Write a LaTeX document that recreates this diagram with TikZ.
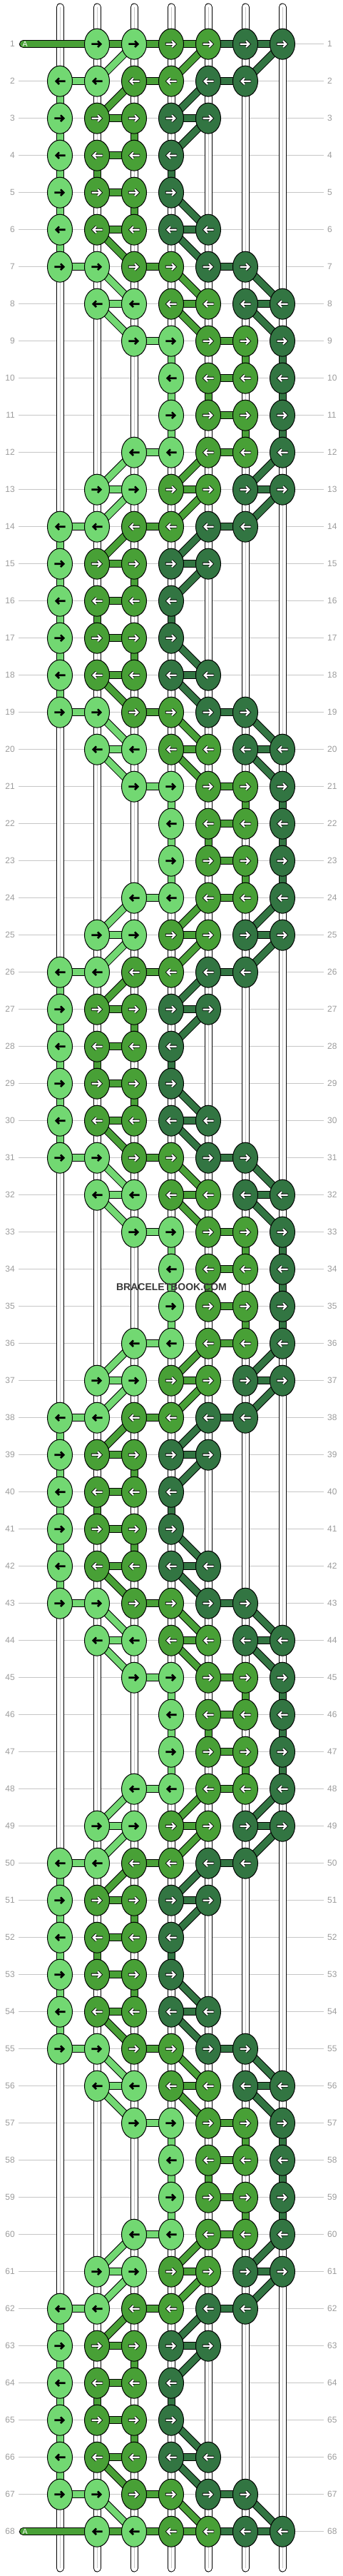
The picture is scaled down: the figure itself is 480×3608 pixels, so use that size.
\documentclass[tikz,border=0pt]{standalone}
\usepackage{fontspec}
\setmainfont{Liberation Sans}
\usetikzlibrary{shapes.geometric}
\definecolor{cL}{HTML}{72D872}
\definecolor{cM}{HTML}{48A036}
\definecolor{cD}{HTML}{327542}
\definecolor{gridgray}{HTML}{C6C6C6}
\definecolor{labgray}{HTML}{9C9C9C}
\definecolor{wmgray}{HTML}{3A3A3A}
\definecolor{strgray}{HTML}{C8C8C8}
\pgfdeclarelayer{gridlayer}
\pgfdeclarelayer{stringlayer}
\pgfdeclarelayer{connblack}
\pgfdeclarelayer{conncolor}
\pgfsetlayers{gridlayer,stringlayer,connblack,conncolor,main}
% knots per period position
\expandafter\def\csname kn0\endcsname{1/L,2/L,3/M,4/M,5/D,6/D}
\expandafter\def\csname kn1\endcsname{2/L,3/L,4/M,5/M,6/D,7/D}
\expandafter\def\csname kn2\endcsname{3/L,4/L,5/M,6/M,7/D}
\expandafter\def\csname kn3\endcsname{4/L,5/M,6/M,7/D}
\expandafter\def\csname kn4\endcsname{4/L,5/M,6/M,7/D}
\expandafter\def\csname kn5\endcsname{3/L,4/L,5/M,6/M,7/D}
\expandafter\def\csname kn6\endcsname{2/L,3/L,4/M,5/M,6/D,7/D}
\expandafter\def\csname kn7\endcsname{1/L,2/L,3/M,4/M,5/D,6/D}
\expandafter\def\csname kn8\endcsname{1/L,2/M,3/M,4/D,5/D}
\expandafter\def\csname kn9\endcsname{1/L,2/M,3/M,4/D}
\expandafter\def\csname kn10\endcsname{1/L,2/M,3/M,4/D}
\expandafter\def\csname kn11\endcsname{1/L,2/M,3/M,4/D,5/D}
% horizontal bars per period position
\expandafter\def\csname hb0\endcsname{1/2/L,3/4/M,5/6/D}
\expandafter\def\csname hb1\endcsname{2/3/L,4/5/M,6/7/D}
\expandafter\def\csname hb2\endcsname{3/4/L,5/6/M}
\expandafter\def\csname hb3\endcsname{5/6/M}
\expandafter\def\csname hb4\endcsname{5/6/M}
\expandafter\def\csname hb5\endcsname{3/4/L,5/6/M}
\expandafter\def\csname hb6\endcsname{2/3/L,4/5/M,6/7/D}
\expandafter\def\csname hb7\endcsname{1/2/L,3/4/M,5/6/D}
\expandafter\def\csname hb8\endcsname{2/3/M,4/5/D}
\expandafter\def\csname hb9\endcsname{2/3/M}
\expandafter\def\csname hb10\endcsname{2/3/M}
\expandafter\def\csname hb11\endcsname{2/3/M,4/5/D}
% connections to next row per period position
\expandafter\def\csname cn0\endcsname{2/3/L,4/5/M,6/7/D}
\expandafter\def\csname cn1\endcsname{2/3/L,4/5/M,6/7/D}
\expandafter\def\csname cn2\endcsname{4/4/L,6/6/M,7/7/D}
\expandafter\def\csname cn3\endcsname{4/4/L,5/5/M,7/7/D}
\expandafter\def\csname cn4\endcsname{4/4/L,6/6/M,7/7/D}
\expandafter\def\csname cn5\endcsname{3/2/L,5/4/M,7/6/D}
\expandafter\def\csname cn6\endcsname{3/2/L,5/4/M,7/6/D}
\expandafter\def\csname cn7\endcsname{1/1/L,3/2/M,5/4/D}
\expandafter\def\csname cn8\endcsname{1/1/L,3/3/M,5/4/D}
\expandafter\def\csname cn9\endcsname{1/1/L,2/2/M,4/4/D}
\expandafter\def\csname cn10\endcsname{1/1/L,3/3/M,4/5/D}
\expandafter\def\csname cn11\endcsname{1/1/L,2/3/M,4/5/D}
\tikzset{
  knot/.style={ellipse, draw=black, line width=1pt, fill=c#1, minimum width=35pt, minimum height=43pt, inner sep=0pt},
  gridline/.style={draw=gridgray, line width=1pt},
  rowlab/.style={text=labgray, font=\fontsize{12pt}{14pt}\selectfont, inner sep=0pt},
  barout/.style={line width=11pt, draw=black},
  barin/.style={line width=9pt, draw=c#1},
  strout/.style={line width=11pt, draw=black, line cap=round},
  strin/.style={line width=9pt, draw=white, line cap=round},
  strmid/.style={line width=0.8pt, draw=strgray},
  arrowblack/.style={line width=2.6pt, draw=black, miter limit=10},
  arrowedge/.style={line width=4pt, draw=black, miter limit=10},
  arrowwhite/.style={line width=2.2pt, draw=white, miter limit=10},
}
% #1 = 0 black outline pass, 1 colour pass; #2,#3 nodes; #4 colour letter
\newcommand\kbar[4]{%
  \ifnum#1=0 \draw[barout] (#2.center) -- (#3.center);%
  \else \draw[barin=#4] (#2.center) -- (#3.center);\fi}
\newcommand\allbars[1]{%
  \foreach \r in {1,...,68}{%
    \pgfmathtruncatemacro\p{mod(\r+5,12)}%
    \ifnum\r=1 \def\hlist{2/3/M,3/4/M,4/5/M,5/6/D,6/7/D}\else
      \ifnum\r=68 \def\hlist{2/3/M,3/4/M,4/5/M,5/6/D,6/7/D}\else
        \edef\hlist{\csname hb\p\endcsname}\fi\fi
    \foreach \a/\b/\cl in \hlist { \kbar{#1}{k\r-\a}{k\r-\b}{\cl} }
  }%
  \foreach \r in {1,...,67}{%
    \pgfmathtruncatemacro\p{mod(\r+5,12)}%
    \pgfmathtruncatemacro\rn{\r+1}%
    \edef\clist{\csname cn\p\endcsname}%
    \foreach \a/\b/\cl in \clist { \kbar{#1}{k\r-\a}{k\rn-\b}{\cl} }
  }%
  \foreach \r in {1,68}{%
    \ifnum#1=0 \draw[barout, line cap=round] (A\r) -- (k\r-2.center);%
    \else \draw[barin=M, line cap=round] (A\r) -- (k\r-2.center);\fi
  }}
\newcommand\karrow[3]{%
  \if#3L
    \draw[arrowblack, shift={(#1.center)}, xscale=#2] (-7.7,0) -- (4.5,0) (1,-4.3) -- (5.3,0) -- (1,4.3);
  \else
    \draw[arrowedge, shift={(#1.center)}, xscale=#2] (-8.2,0) -- (4.5,0) (1,-4.3) -- (5.3,0) -- (1,4.3);
    \draw[arrowwhite, shift={(#1.center)}, xscale=#2] (-7.5,0) -- (4.5,0) (1,-4.3) -- (5.3,0) -- (1,4.3);
  \fi}
\begin{document}
\begin{tikzpicture}[x=1pt,y=-1pt]
\useasboundingbox (0,0) rectangle (480,3608);
% knots, arrows, labels
\foreach \r in {1,...,68}{
  \pgfmathtruncatemacro\p{mod(\r+5,12)}
  \pgfmathsetmacro\yy{61.7+52*(\r-1)}
  \ifodd\r\relax \def\dir{1}\else \def\dir{-1}\fi
  \node[rowlab, anchor=east] (labl\r) at (21,\yy) {\r};
  \node[rowlab, anchor=west] (labr\r) at (459,\yy) {\r};
  \edef\klist{\csname kn\p\endcsname}
  \foreach \c/\cl in \klist {
    \node[knot=\cl] (k\r-\c) at ({84+52*(\c-1)},\yy) {};
    \karrow{k\r-\c}{\dir}{\cl}
  }
}
\foreach \r in {1,68}{
  \pgfmathsetmacro\yy{61.7+52*(\r-1)}
  \coordinate (A\r) at (32.5,\yy);
  \node[text=white, font=\fontsize{10.5pt}{12pt}\selectfont, inner sep=0pt] (Alab\r) at (35.2,\yy) {A};
}
% background and grid
\begin{pgfonlayer}{gridlayer}
\fill[white] (0,0) rectangle (480,3608);
\foreach \r in {1,...,68}{
  \draw[gridline] (26,{61.7+52*(\r-1)}) -- (454,{61.7+52*(\r-1)});
}
\end{pgfonlayer}
% strings
\begin{pgfonlayer}{stringlayer}
\foreach \c in {1,...,7}{
  \coordinate (st\c) at ({84+52*(\c-1)},10);
  \coordinate (sb\c) at ({84+52*(\c-1)},3597);
  \draw[strout] (st\c) -- (sb\c);
  \draw[strin] (st\c) -- (sb\c);
  \draw[strmid] (st\c) -- (sb\c);
}
\end{pgfonlayer}
% connectors
\begin{pgfonlayer}{connblack}
\allbars{0}
\end{pgfonlayer}
\begin{pgfonlayer}{conncolor}
\allbars{1}
\end{pgfonlayer}
\node[font=\bfseries\fontsize{14pt}{16pt}\selectfont, text=wmgray, inner sep=0pt] (wm) at (240.5,1803) {BRACELETBOOK.COM};
\end{tikzpicture}
\end{document}
